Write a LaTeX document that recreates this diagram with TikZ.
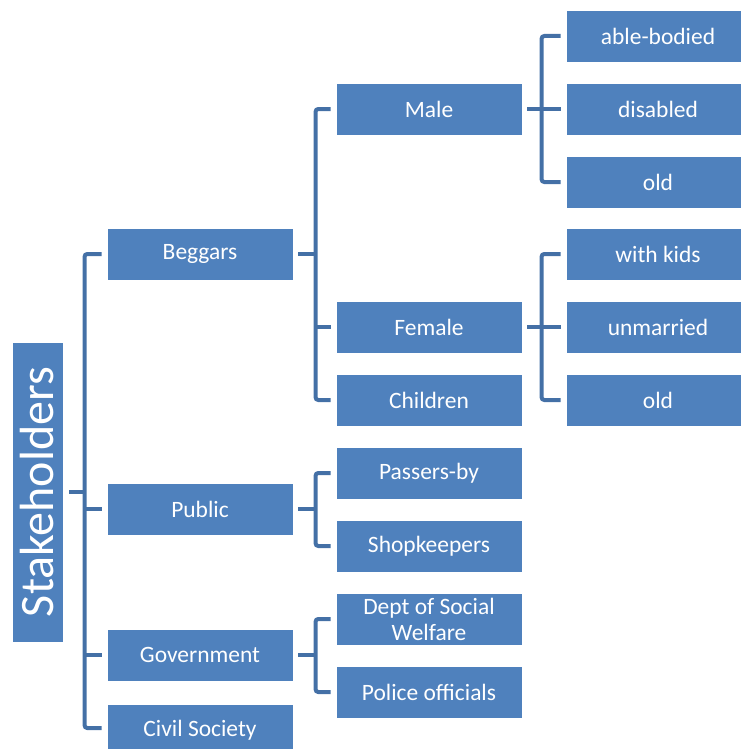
\documentclass[tikz,border=0pt]{standalone}
\usepackage{fontspec}
\setmainfont{Carlito}
\usetikzlibrary{calc}
\definecolor{boxblue}{RGB}{79,129,189}
\definecolor{lineblue}{RGB}{68,112,166}

\begin{document}
\begin{tikzpicture}[x=0.75pt,y=-0.75pt,
  box/.style={fill=boxblue,draw=white,line width=0.6pt,text=white,minimum width=139.5pt,minimum height=39pt,inner sep=1pt,align=center,font=\fontsize{17.6}{19.5}\selectfont},
  leaf/.style={box,minimum width=138pt},
  conn/.style={lineblue,line width=3pt,rounded corners=2pt}]
\useasboundingbox (0,0) rectangle (740,749);
% root
\node[box,rotate=90,minimum width=225pt,minimum height=38.25pt,inner sep=0pt,font=\fontsize{36}{40}\selectfont] (stake) at (37.5,492) {Stakeholders};
% level 1
\node[box] (beggars) at (200,254) {Beggars};
\node[box] (public) at (200,509) {Public};
\node[box] (govt) at (200,655) {Government};
\node[box] (civil) at (200,730) {Civil Society};
% level 2
\node[box] (male) at (429,109) {Male};
\node[box] (female) at (429,327) {Female};
\node[box] (children) at (429,400) {Children};
\node[box] (passers) at (429,473) {Passers-by};
\node[box] (shop) at (429,546) {Shopkeepers};
\node[box] (dept) at (429,619) {Dept of Social\\Welfare};
\node[box] (police) at (429,692) {Police officials};
% level 3
\node[leaf] (able) at (658,36) {able-bodied};
\node[leaf] (disabled) at (658,109) {disabled};
\node[leaf] (oldm) at (658,182) {old};
\node[leaf] (kids) at (658,254) {with kids};
\node[leaf] (unmarried) at (658,327) {unmarried};
\node[leaf] (oldf) at (658,400) {old};
% connectors
\draw[conn] ($(stake.south)+(6,0)$) -- ++(16,0);
\draw[conn] ($(beggars.west)+(-5,0)$) -- ++(-17,0) |- ($(civil.west)+(-5,-2)$);
\foreach \n in {public,govt}
  \draw[conn] ($(\n.west)+(-5,0)$) -- ++(-17,0);
\foreach \p/\a/\b in {beggars/male/children,public/passers/shop,govt/dept/police}{
  \draw[conn] ($(\p.east)+(5,0)$) -- ++(18,0);
  \draw[conn] ($(\a.west)+(-5,0)$) -- ++(-15,0) |- ($(\b.west)+(-5,0)$);
}
\draw[conn] ($(female.west)+(-5,0)$) -- ++(-15,0);
\foreach \p/\a/\m/\b in {male/able/disabled/oldm,female/kids/unmarried/oldf}{
  \draw[conn] ($(\p.east)+(5,0)$) -- ++(15,0);
  \draw[conn] ($(\a.west)+(-5,0)$) -- ++(-19,0) |- ($(\b.west)+(-5,0)$);
  \draw[conn] ($(\m.west)+(-5,0)$) -- ++(-19,0);
}
\end{tikzpicture}
\end{document}
